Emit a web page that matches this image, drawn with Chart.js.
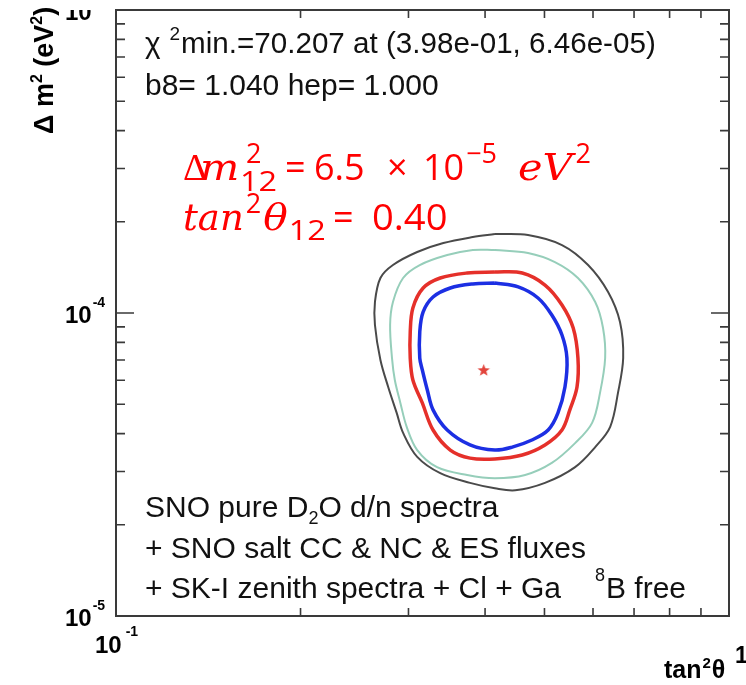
<!DOCTYPE html>
<html>
<head>
<meta charset="utf-8">
<script src="https://cdn.jsdelivr.net/npm/chart.js@4.4.1/dist/chart.umd.min.js"></script>
<style>
  html, body { margin: 0; padding: 0; background: #ffffff; }
  #c { display: block; }
</style>
</head>
<body>
<canvas id="c" width="746" height="685"></canvas>
<script>
// Allowed regions in the (tan^2 theta, delta m^2) plane, outermost first.
const outerTan = [0.415, 0.470, 0.534, 0.589, 0.635, 0.664, 0.672, 0.659, 0.640, 0.605, 0.561, 0.501, 0.448, 0.415, 0.378, 0.338, 0.310, 0.294, 0.287, 0.278, 0.270, 0.2645, 0.2645, 0.270, 0.283, 0.310, 0.342, 0.382, 0.415];
const outerDm2 = [18.23e-5, 18.09e-5, 16.76e-5, 14.40e-5, 11.73e-5, 9.34e-5, 7.10e-5, 5.45e-5, 4.21e-5, 3.61e-5, 3.10e-5, 2.75e-5, 2.60e-5, 2.64e-5, 2.75e-5, 2.96e-5, 3.35e-5, 4.02e-5, 4.68e-5, 5.70e-5, 7.00e-5, 9.13e-5, 10.87e-5, 13.05e-5, 14.40e-5, 15.90e-5, 17.02e-5, 17.81e-5, 18.23e-5];

const tealTan = [0.415, 0.470, 0.520, 0.567, 0.605, 0.623, 0.628, 0.616, 0.598, 0.561, 0.514, 0.465, 0.415, 0.374, 0.334, 0.310, 0.298, 0.291, 0.285, 0.282, 0.280, 0.283, 0.294, 0.313, 0.347, 0.382, 0.415];
const tealDm2 = [16.14e-5, 15.78e-5, 14.73e-5, 13.05e-5, 10.87e-5, 8.92e-5, 7.10e-5, 5.45e-5, 4.34e-5, 3.72e-5, 3.20e-5, 2.92e-5, 2.85e-5, 2.92e-5, 3.10e-5, 3.53e-5, 4.21e-5, 5.05e-5, 6.01e-5, 7.10e-5, 9.13e-5, 10.87e-5, 13.05e-5, 14.40e-5, 15.54e-5, 16.14e-5, 16.14e-5];

const redTan = [0.415, 0.460, 0.501, 0.534, 0.557, 0.567, 0.565, 0.550, 0.534, 0.501, 0.460, 0.415, 0.378, 0.351, 0.329, 0.316, 0.305, 0.302, 0.302, 0.305, 0.317, 0.338, 0.374, 0.415];
const redDm2 = [13.66e-5, 13.55e-5, 12.37e-5, 10.63e-5, 8.92e-5, 7.10e-5, 5.70e-5, 4.79e-5, 4.11e-5, 3.67e-5, 3.40e-5, 3.30e-5, 3.32e-5, 3.53e-5, 4.11e-5, 5.05e-5, 6.01e-5, 7.10e-5, 8.66e-5, 10.39e-5, 12.09e-5, 13.05e-5, 13.55e-5, 13.66e-5];

const blueTan = [0.415, 0.453, 0.488, 0.514, 0.534, 0.544, 0.540, 0.526, 0.507, 0.477, 0.443, 0.415, 0.378, 0.347, 0.329, 0.322, 0.316, 0.313, 0.313, 0.317, 0.329, 0.351, 0.382, 0.415];
const blueDm2 = [12.56e-5, 12.19e-5, 11.21e-5, 9.85e-5, 8.46e-5, 7.10e-5, 5.70e-5, 4.68e-5, 4.11e-5, 3.81e-5, 3.61e-5, 3.53e-5, 3.67e-5, 4.11e-5, 4.79e-5, 5.57e-5, 6.49e-5, 7.10e-5, 8.66e-5, 10.08e-5, 11.29e-5, 12.09e-5, 12.47e-5, 12.56e-5];

// Best fit point
const bestTan = [0.398];
const bestDm2 = [6.46e-5];

// Axis ranges and tick positions
const xRange = [0.1, 1];
const yRange = [1e-5, 1e-3];
const xMinorTicks = [0.2, 0.3, 0.4, 0.5, 0.6, 0.7, 0.8, 0.9];
const yMajorTicks = [1e-4];
const yMinorTicks = [2e-5, 3e-5, 4e-5, 5e-5, 6e-5, 7e-5, 8e-5, 9e-5, 2e-4, 3e-4, 4e-4, 5e-4, 6e-4, 7e-4, 8e-4, 9e-4];
const yTickLabels = [{v: 1e-3, exp: '-3'}, {v: 1e-4, exp: '-4'}, {v: 1e-5, exp: '-5'}];
const xTickLabels = [{v: 0.1, base: '10', exp: '-1'}, {v: 1, base: '1', exp: ''}];

function pts(xs, ys) { return xs.map((x, i) => ({x: x, y: ys[i]})); }

function starImage(r, color) {
  const c = document.createElement('canvas');
  c.width = c.height = 2 * r + 2;
  const g = c.getContext('2d');
  g.fillStyle = color;
  g.beginPath();
  for (let i = 0; i < 10; i++) {
    const a = -Math.PI / 2 + i * Math.PI / 5;
    const rr = i % 2 ? r * 0.42 : r;
    g.lineTo(r + 1 + rr * Math.cos(a), r + 1 + rr * Math.sin(a));
  }
  g.closePath();
  g.fill();
  return c;
}

// Draw a run of text pieces; each piece: {t, f, dy, dx, hold, at, sx}
function drawRuns(ctx, x, y, runs, color) {
  ctx.fillStyle = color;
  ctx.textBaseline = 'alphabetic';
  ctx.textAlign = 'left';
  let held = 0;
  for (const r of runs) {
    ctx.font = r.f;
    const sx = r.sx || 1;
    if (r.at !== undefined) { x = r.at; held = 0; }
    ctx.save();
    ctx.translate(x + (r.dx || 0), y + (r.dy || 0));
    ctx.scale(sx, 1);
    ctx.fillText(r.t, 0, 0);
    ctx.restore();
    const w = ctx.measureText(r.t).width * sx + (r.dx || 0);
    if (r.hold) { held = Math.max(held, w); continue; }
    x += Math.max(w, held);
    held = 0;
  }
}

const SANS = '"Liberation Sans", Arial, sans-serif';
const frameColor = '#3a3a3a';

const framePlugin = {
  id: 'frame',
  beforeDatasetsDraw(chart) {
    const ctx = chart.ctx;
    const a = chart.chartArea;
    const xs = chart.scales.x, ys = chart.scales.y;
    ctx.save();
    ctx.strokeStyle = frameColor;
    ctx.lineWidth = 1.6;
    ctx.beginPath();
    for (const v of xMinorTicks) {
      const px = xs.getPixelForValue(v);
      ctx.moveTo(px, a.bottom); ctx.lineTo(px, a.bottom - 8);
      ctx.moveTo(px, a.top); ctx.lineTo(px, a.top + 8);
    }
    for (const v of yMinorTicks) {
      const py = ys.getPixelForValue(v);
      ctx.moveTo(a.left, py); ctx.lineTo(a.left + 9, py);
      ctx.moveTo(a.right, py); ctx.lineTo(a.right - 9, py);
    }
    for (const v of yMajorTicks) {
      const py = ys.getPixelForValue(v);
      ctx.moveTo(a.left, py); ctx.lineTo(a.left + 18, py);
      ctx.moveTo(a.right, py); ctx.lineTo(a.right - 18, py);
    }
    ctx.stroke();
    ctx.lineWidth = 2;
    ctx.strokeRect(a.left, a.top, a.right - a.left, a.bottom - a.top);
    ctx.restore();
  },
  afterDraw(chart) {
    const ctx = chart.ctx;
    const a = chart.chartArea;
    const xs = chart.scales.x, ys = chart.scales.y;
    ctx.save();

    // tick labels on the vertical axis
    ctx.save();
    ctx.beginPath();
    ctx.rect(0, a.top, a.left, chart.height - a.top);
    ctx.clip();
    for (const t of yTickLabels) {
      const py = ys.getPixelForValue(t.v);
      drawRuns(ctx, 65, py + 10, [
        {t: '10', f: 'bold 24px ' + SANS},
        {t: t.exp, f: 'bold 14px ' + SANS, dy: -16, dx: 1}
      ], '#000');
    }
    ctx.restore();

    // tick labels on the horizontal axis
    for (const t of xTickLabels) {
      const px = xs.getPixelForValue(t.v);
      if (t.exp) {
        drawRuns(ctx, px - 21, a.bottom + 37, [
          {t: t.base, f: 'bold 24px ' + SANS},
          {t: t.exp, f: 'bold 14px ' + SANS, dy: -17, dx: 4}
        ], '#000');
      } else {
        drawRuns(ctx, px + 6, a.bottom + 47, [
          {t: t.base, f: 'bold 23px ' + SANS}
        ], '#000');
      }
    }

    // axis titles
    drawRuns(ctx, 664, 678, [
      {t: 'tan', f: 'bold 25px ' + SANS},
      {t: '2', f: 'bold 15px ' + SANS, dy: -10, dx: 1},
      {t: 'θ', f: 'bold 25px ' + SANS, dx: 1}
    ], '#000');

    ctx.save();
    ctx.translate(53, 134);
    ctx.rotate(-Math.PI / 2);
    drawRuns(ctx, 0, 0, [
      {t: 'Δ m', f: 'bold 27px ' + SANS},
      {t: '2', f: 'bold 16px ' + SANS, dy: -11},
      {t: ' (eV', f: 'bold 27px ' + SANS},
      {t: '2', f: 'bold 16px ' + SANS, dy: -11},
      {t: ')', f: 'bold 27px ' + SANS}
    ], '#000');
    ctx.restore();

    // fit summary
    drawRuns(ctx, 145, 53, [
      {t: 'χ', f: '29.6px ' + SANS},
      {t: '2', f: '19px ' + SANS, dy: -13, dx: 9},
      {t: 'min.=70.207 at (3.98e-01, 6.46e-05)', f: '29.6px ' + SANS, dx: 1}
    ], '#111');
    drawRuns(ctx, 145, 95, [
      {t: 'b8= 1.040 hep= 1.000', f: '30px ' + SANS}
    ], '#111');

    // best-fit parameters
    const IT = 'italic 37px "DejaVu Serif", serif';
    const UP = '36px "Open Sans", Lato, sans-serif';
    const SC = '27px "Open Sans", Lato, sans-serif';
    drawRuns(ctx, 183, 180, [
      {t: 'Δ', f: '38px "Liberation Serif", serif'},
      {t: 'm', f: IT, at: 200, sx: 1.12},
      {t: '2', f: SC, at: 246, dy: -17},
      {t: '12', f: SC, at: 240, dy: 11, sx: 1.2},
      {t: '=', f: UP, at: 285},
      {t: '6.5', f: UP, at: 314},
      {t: '×', f: UP, at: 387},
      {t: '10', f: UP, at: 423},
      {t: '−5', f: SC, dy: -17, dx: 2},
      {t: 'eV', f: IT, at: 518, sx: 1.12},
      {t: '2', f: SC, dy: -17, dx: 3}
    ], '#ff0000');
    drawRuns(ctx, 183, 230, [
      {t: 'tan', f: IT},
      {t: '2', f: SC, dy: -17, dx: 2},
      {t: 'θ', f: IT, dx: 2, sx: 1.1},
      {t: '12', f: SC, dy: 10, dx: 1, sx: 1.2},
      {t: '=', f: UP, at: 333},
      {t: '0.40', f: UP, at: 372, sx: 1.06}
    ], '#ff0000');

    // data set description
    const F = '30px ' + SANS;
    const FS = '18px ' + SANS;
    drawRuns(ctx, 145, 517, [
      {t: 'SNO pure D', f: F},
      {t: '2', f: FS, dy: 7},
      {t: 'O d/n spectra', f: F}
    ], '#111');
    drawRuns(ctx, 145, 558, [{t: '+ SNO salt CC & NC & ES fluxes', f: F}], '#111');
    drawRuns(ctx, 145, 598, [
      {t: '+ SK-I zenith spectra + Cl + Ga', f: F},
      {t: '8', f: FS, at: 595, dy: -17},
      {t: 'B free', f: F, at: 606}
    ], '#111');

    ctx.restore();
  }
};

const lineStyle = (color, width) => ({
  showLine: true, borderColor: color, borderWidth: width, pointRadius: 0,
  pointHoverRadius: 0, tension: 0.35, fill: false
});

new Chart(document.getElementById('c'), {
  type: 'scatter',
  data: {
    datasets: [
      Object.assign({label: '3σ', data: pts(outerTan, outerDm2)}, lineStyle('#4a4a4a', 2)),
      Object.assign({label: '99%', data: pts(tealTan, tealDm2)}, lineStyle('#96ceba', 2)),
      Object.assign({label: '95%', data: pts(redTan, redDm2)}, lineStyle('#e5302a', 3.5)),
      Object.assign({label: '90%', data: pts(blueTan, blueDm2)}, lineStyle('#1c2fe3', 3.5)),
      {label: 'best fit', data: pts(bestTan, bestDm2), pointStyle: starImage(6.5, '#e2443c'),
       pointRadius: 7, showLine: false}
    ]
  },
  options: {
    responsive: false,
    animation: false,
    devicePixelRatio: 1,
    layout: {padding: {left: 116, top: 10, right: 17, bottom: 69}},
    plugins: {legend: {display: false}, tooltip: {enabled: false}},
    events: [],
    scales: {
      x: {type: 'logarithmic', min: xRange[0], max: xRange[1], display: false},
      y: {type: 'logarithmic', min: yRange[0], max: yRange[1], display: false}
    }
  },
  plugins: [framePlugin]
});
</script>
</body>
</html>
